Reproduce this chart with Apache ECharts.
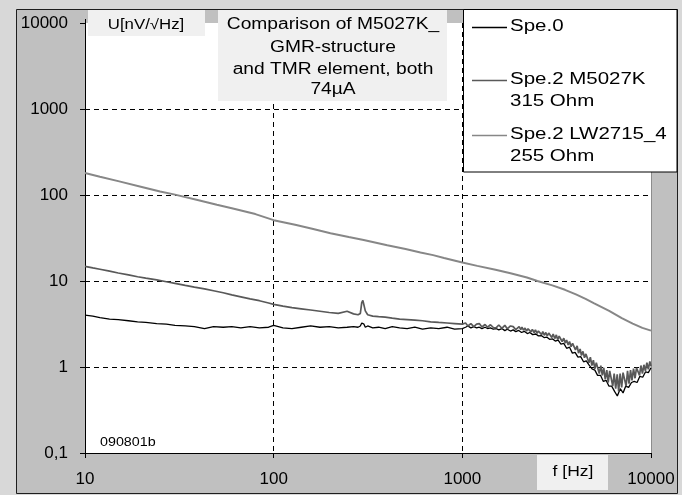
<!DOCTYPE html>
<html>
<head>
<meta charset="utf-8">
<script src="https://cdn.jsdelivr.net/npm/echarts@6/dist/echarts.min.js"></script>
<style>html,body{margin:0;padding:0;background:#d8d8d8;}#c{width:682px;height:495px;}</style>
</head>
<body>
<div id="c"></div>
<script>
// ---------- DATA ----------
const seriesNames = ['Spe.0', 'Spe.2 M5027K', 'Spe.2 LW2715_4'];
const seriesSub = ['', '315 Ohm', '255 Ohm'];
const xTickLabels = ['10', '100', '1000', '10000'];
const yTickLabels = ['0,1', '1', '10', '100', '1000', '10000'];
const titleLines = ['Comparison of M5027K_', 'GMR-structure', 'and TMR element, both', '74µA'];
const yAxisName = 'U[nV/√Hz]';
const xAxisName = 'f [Hz]';
const sampleId = '090801b';

// LW2715_4 (255 Ohm)
const freqTop = [10, 12, 15, 20, 25, 30, 40, 50, 60, 80, 100, 130, 160, 200, 250, 300, 400, 500, 600, 700, 800, 1000,
  1200, 1500, 1800, 2200, 2500, 3000, 3500, 4000, 4500, 5000, 6000, 7000, 8000, 9000, 10000];
const valTop = [180, 163, 145, 124, 110, 101, 87, 77, 70, 60, 51, 45, 40.5, 36, 32.5, 30, 26, 23.5, 21.5, 20, 18.5, 16.4,
  15, 13.5, 12.3, 11, 10, 8.9, 7.9, 7.0, 6.2, 5.5, 4.5, 3.7, 3.2, 2.85, 2.65];

// low-frequency part shared by Spe.0 and M5027K (10 .. 1000 Hz)
const freqLow = [10, 11, 12, 13.5, 15, 17, 19, 21, 24, 27, 30, 34, 38, 43, 48, 54, 60, 67, 75, 84, 94, 100,
  112, 125, 140, 157, 176, 197, 220, 245, 265, 280, 288, 293, 297, 301, 306, 315, 335, 360, 390, 425, 465,
  510, 560, 615, 680, 750, 830, 910, 1000];

// Spe.0 high-frequency points
const freqHighSpe0 = [1040, 1070, 1110, 1150, 1190, 1230, 1270, 1320, 1360, 1410, 1460, 1510, 1560, 1620, 1680, 1730, 1800, 1860,
  1920, 1990, 2060, 2130, 2210, 2280, 2360, 2450, 2530, 2620, 2710, 2810, 2900, 3010, 3110, 3220, 3330, 3450,
  3570, 3700, 3830, 3960, 4100, 4240, 4390, 4540, 4700, 4870, 5040, 5210, 5400, 5590, 5780, 5980, 6190, 6410,
  6630, 6870, 7110, 7350, 7610, 7880, 8150, 8440, 8730, 9040, 9360, 9680, 10000];

// M5027K high-frequency points (dense, noisy band)
const freqHighM5027K = [1040, 1070, 1110, 1150, 1190, 1230, 1270, 1320, 1360, 1410, 1460, 1510, 1560, 1620, 1680, 1730, 1800, 1860, 1920,
  2000, 2040, 2070, 2110, 2150, 2190, 2230, 2270, 2310, 2350,
  2400, 2440, 2490, 2530, 2580, 2630, 2670, 2720, 2770, 2820,
  2870, 2930, 2980, 3030, 3090, 3150, 3200, 3260, 3320, 3380,
  3450, 3510, 3570, 3640, 3700, 3770, 3840, 3910, 3980, 4060,
  4130, 4210, 4280, 4360, 4440, 4520, 4600, 4690, 4770, 4860,
  4950, 5040, 5130, 5230, 5320, 5420, 5520, 5620, 5720, 5830,
  5930, 6040, 6150, 6270, 6380, 6500, 6620, 6740, 6860, 6990,
  7110, 7240, 7380, 7510, 7650, 7790, 7930, 8080, 8230, 8380,
  8530, 8690, 8840, 9010, 9170, 9340, 9510, 9680, 9860, 10000];

const valM5027K = [14.8, 14.2, 13.7, 13.0, 12.4, 11.8, 11.2, 10.8, 10.3, 9.8, 9.4, 8.9, 8.5, 8.1, 7.7, 7.3, 6.9, 6.55, 6.2, 5.9, 5.55, 5.35,
  5.1, 4.9, 4.75, 4.6, 4.45, 4.3, 4.2, 4.45, 4.15, 4.05, 4.2, 5.6, 5.95, 5.8, 4.5, 4.05, 3.9, 3.85, 3.8, 3.7, 3.6,
  3.55, 3.5, 3.45, 3.35, 3.3, 3.25, 3.2, 3.15,
  3.25, 3.0, 3.2, 2.95, 3.15, 3.2, 2.92, 3.12, 2.9, 3.1, 2.88, 2.85, 3.08, 2.82, 3.05, 2.78, 3.0, 2.95, 2.72,
  2.95, 2.72, 2.9, 2.68, 2.84, 2.62, 2.78, 2.8, 2.56, 2.74,
  2.52, 2.7, 2.46, 2.62, 2.6, 2.38, 2.58, 2.34, 2.52, 2.3,
  2.48, 2.44, 2.2, 2.42, 2.14, 2.36, 2.08, 2.28, 2.22, 1.98,
  2.16, 1.9, 2.06, 1.8, 1.98, 1.72, 1.88, 1.84, 1.58, 1.76,
  1.45, 1.62, 1.36, 1.52, 1.28, 1.42, 1.38, 1.12, 1.3, 1.04,
  1.2, 0.95, 1.12, 1.08, 0.84, 1.04, 0.8, 0.98, 0.72, 0.92,
  0.66, 0.9, 0.86, 0.6, 0.84, 0.56, 0.82, 0.52, 0.84, 0.58,
  0.86, 0.82, 0.6, 0.9, 0.64, 0.92, 0.7, 0.96, 0.74, 0.98,
  0.95, 0.8, 1.04, 0.84, 1.06, 0.9, 1.12, 0.94, 1.16, 1.02];

const valSpe0 = [4.0, 3.9, 3.75, 3.6, 3.55, 3.45, 3.35, 3.3, 3.2, 3.15, 3.05, 3.0, 2.95, 2.8, 2.95, 2.9, 2.95, 2.85, 2.95, 2.85, 2.9, 3.05,
  2.85, 2.8, 2.9, 3.0, 2.9, 2.95, 2.85, 2.9, 2.95, 2.9, 3.0, 3.25, 3.3, 3.15, 2.9, 3.0, 2.85, 2.9, 2.8, 2.95, 2.85,
  2.8, 2.9, 2.75, 2.85, 2.8, 2.9, 2.75, 2.8,
  2.9, 3.0, 2.85, 2.95, 2.85, 2.9, 2.8, 2.9, 2.8, 2.85, 2.75, 2.8, 2.7, 2.8, 2.65, 2.75, 2.62, 2.7,
  2.58, 2.66, 2.52, 2.6, 2.45, 2.52, 2.38, 2.42, 2.3, 2.32, 2.2, 2.22, 2.1, 2.12, 2.0, 2.05, 1.85, 1.88,
  1.65, 1.7, 1.45, 1.48, 1.3, 1.32, 1.15, 1.18, 1.05, 0.95, 0.92, 0.8, 0.8, 0.68, 0.7, 0.6, 0.6, 0.52,
  0.46, 0.56, 0.5, 0.6, 0.58, 0.66, 0.68, 0.66, 0.78, 0.76, 0.88, 0.86, 0.98];

// ---------- CHART ----------
const colors = ['#000000', '#595959', '#878787'];
const widths = [1.3, 1.7, 2.0];
const FONT = '"Liberation Sans", Arial, sans-serif';

const chart = echarts.init(document.getElementById('c'), null, {renderer: 'canvas'});

const pairs = (fs, vs) => fs.map((f, i) => [f, vs[i]]);
const dataSets = [
  pairs(freqLow.concat(freqHighSpe0), valSpe0),
  pairs(freqLow.concat(freqHighM5027K), valM5027K),
  pairs(freqTop, valTop)
];

const G = {l: 85, r: 651, t: 23, b: 453};

function txt(x, y, text, size, sx, align) {
  return {type: 'text', z: 101, silent: true, x: x, y: y, scaleX: sx,
    style: {x: 0, y: 0, text: text, font: size + 'px ' + FONT, fill: '#000', textAlign: align, textVerticalAlign: 'middle'}};
}

const graphics = [
  {type: 'rect', z: -20, silent: true, shape: {x: 16.5, y: 9.5, width: 661, height: 484}, style: {fill: '#c0c0c0', stroke: '#1e1e1e', lineWidth: 1}},
  {type: 'rect', z: -19, silent: true, shape: {x: G.l, y: G.t, width: G.r - G.l, height: G.b - G.t}, style: {fill: '#ffffff'}},
  {type: 'line', z: -18, silent: true, shape: {x1: G.r + 0.5, y1: G.t, x2: G.r + 0.5, y2: G.b}, style: {stroke: '#8c8c8c', lineWidth: 1}},
  {type: 'line', z: 5, silent: true, shape: {x1: G.l + 0.5, y1: 19, x2: G.l + 0.5, y2: G.t}, style: {stroke: '#000', lineWidth: 1}},
  // y axis name box
  {type: 'rect', z: 100, silent: true, shape: {x: 88, y: 10, width: 117, height: 26}, style: {fill: '#f0f0f0'}},
  txt(146, 25, yAxisName, 14, 1.2, 'center'),
  // title box
  {type: 'rect', z: 100, silent: true, shape: {x: 218, y: 10, width: 229, height: 91}, style: {fill: '#f0f0f0'}},
  // legend box
  {type: 'rect', z: 100, silent: true, shape: {x: 463.5, y: 9.5, width: 213.5, height: 162.5}, style: {fill: '#ffffff', stroke: '#000', lineWidth: 1}},
  // x axis name box
  {type: 'rect', z: 100, silent: true, shape: {x: 537, y: 455, width: 71, height: 35}, style: {fill: '#f0f0f0'}},
  txt(573, 472, xAxisName, 14, 1.25, 'center'),
  txt(100, 442, sampleId, 13, 1.1, 'left')
];
const titleY = [25, 48, 70, 90];
titleLines.forEach((t, i) => graphics.push(txt(333, titleY[i], t, 16, 1.2, 'center')));
const legY = [27, 80, 135];
seriesNames.forEach((n, i) => {
  graphics.push({type: 'line', z: 101, silent: true, shape: {x1: 472, y1: legY[i] + 0.5, x2: 507, y2: legY[i] + 0.5}, style: {stroke: colors[i], lineWidth: 1.3}});
  graphics.push(txt(510, legY[i], n, 16, 1.28, 'left'));
  if (seriesSub[i]) graphics.push(txt(510, legY[i] + 22, seriesSub[i], 16, 1.28, 'left'));
});

const option = {
  backgroundColor: '#d8d8d8',
  animation: false,
  grid: {left: G.l, right: 682 - G.r, top: G.t, bottom: 495 - G.b, containLabel: false},
  xAxis: {
    type: 'log', logBase: 10, min: 10, max: 10000,
    axisLine: {show: true, lineStyle: {color: '#000', width: 1}},
    axisTick: {show: true, length: 5, lineStyle: {color: '#000'}},
    minorTick: {show: false},
    axisLabel: {margin: 18, color: '#000', fontSize: 17, fontFamily: FONT,
      formatter: v => xTickLabels[Math.round(Math.log10(v)) - 1]},
    splitLine: {show: true, showMinLine: false, showMaxLine: false, lineStyle: {color: '#000', type: [5, 4], width: 1}}
  },
  yAxis: {
    type: 'log', logBase: 10, min: 0.1, max: 10000,
    axisLine: {show: true, lineStyle: {color: '#000', width: 1}},
    axisTick: {show: true, length: 5, lineStyle: {color: '#000'}},
    axisLabel: {margin: 17, color: '#000', fontSize: 17, fontFamily: FONT,
      formatter: v => yTickLabels[Math.round(Math.log10(v)) + 1]},
    splitLine: {show: true, showMinLine: false, showMaxLine: false, lineStyle: {color: '#000', type: [5, 4], width: 1}}
  },
  series: seriesNames.map((n, i) => ({
    name: n, type: 'line', data: dataSets[i], showSymbol: false, symbol: 'none',
    z: 2 + i, lineStyle: {color: colors[i], width: widths[i]}, itemStyle: {color: colors[i]}
  })),
  graphic: {elements: graphics}
};
chart.setOption(option);
</script>
</body>
</html>
